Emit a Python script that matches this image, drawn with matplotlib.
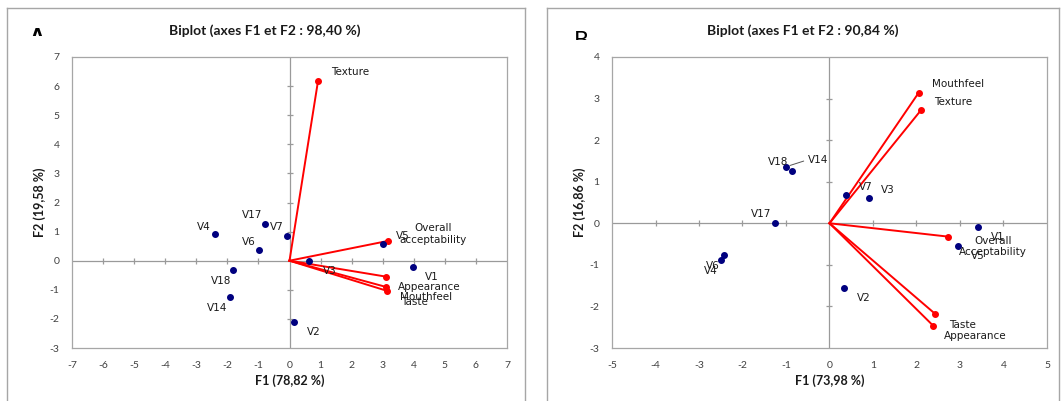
import numpy as np
import matplotlib
matplotlib.use("Agg")
import matplotlib.pyplot as plt
from matplotlib.patches import Rectangle
from matplotlib.lines import Line2D

# ---------------- data ----------------
# Panel A
a_title = "Biplot (axes F1 et F2 : 98,40 %)"
a_xlabel = "F1 (78,82 %)"
a_ylabel = "F2 (19,58 %)"
a_obs_names = ["V1", "V2", "V3", "V4", "V5", "V6", "V7", "V14", "V17", "V18"]
a_obs_f1 = [3.97, 0.14, 0.64, -2.40, 3.01, -0.99, -0.09, -1.92, -0.79, -1.81]
a_obs_f2 = [-0.21, -2.10, -0.02, 0.92, 0.58, 0.36, 0.86, -1.24, 1.26, -0.33]
a_var_names = ["Texture", "Overall\nacceptability", "Appearance", "Mouthfeel", "Taste"]
a_var_f1 = [0.92, 3.17, 3.12, 3.10, 3.15]
a_var_f2 = [6.19, 0.68, -0.55, -0.90, -1.04]
a_xlim = (-7, 7)
a_ylim = (-3, 7)

# Panel B
b_title = "Biplot (axes F1 et F2 : 90,84 %)"
b_xlabel = "F1 (73,98 %)"
b_ylabel = "F2 (16,86 %)"
b_obs_names = ["V1", "V2", "V3", "V4", "V5", "V6", "V7", "V14", "V17", "V18"]
b_obs_f1 = [3.41, 0.33, 0.91, -2.49, 2.95, -2.43, 0.38, -1.00, -1.26, -0.86]
b_obs_f2 = [-0.08, -1.56, 0.62, -0.88, -0.55, -0.77, 0.68, 1.36, 0.01, 1.26]
b_var_names = ["Mouthfeel", "Texture", "Overall\nAcceptability", "Taste", "Appearance"]
b_var_f1 = [2.05, 2.11, 2.72, 2.43, 2.39]
b_var_f2 = [3.14, 2.73, -0.32, -2.18, -2.47]
b_xlim = (-5, 5)
b_ylim = (-3, 4)

# label offsets in pixels (dx right, dy down) -- layout only
a_obs_off = {"V1": (19, 10), "V2": (20, 10), "V3": (20, 10), "V4": (-11, -7),
             "V5": (20, -8), "V6": (-10, -8), "V7": (-10, -9), "V14": (-13, 11),
             "V17": (-13, -9), "V18": (-12, 11)}
a_var_off = {"Texture": (32, -9), "Overall\nacceptability": (45, -7),
             "Appearance": (43, 10), "Mouthfeel": (40, 10), "Taste": (27, 11)}
b_obs_off = {"V1": (20, 10), "V2": (20, 10), "V3": (19, -8), "V4": (-10, 11),
             "V5": (20, 10), "V6": (-11, 11), "V7": (20, -8), "V14": (32, -7),
             "V17": (-14, -9), "V18": (-14, -9)}
b_var_off = {"Mouthfeel": (39, -9), "Texture": (32, -8),
             "Overall\nAcceptability": (45, 10), "Taste": (27, 11), "Appearance": (42, 10)}
b_leader = {"V14"}

W, H = 1061, 401
fig = plt.figure(figsize=(W / 100, H / 100), dpi=100)
fig.patch.set_facecolor("white")

TICK_FONT = "Lato"
LAB_FONT = "DejaVu Sans"
GRAY = "#a6a6a6"
AXGRAY = "#9a9a9a"
NAVY = "#00007f"
RED = "#ff0000"
PX2PT = 72 / 100


def fx(x):
    return x / W


def fy(y):
    return 1 - y / H


def frame(x0, y0, x1, y1):
    fig.add_artist(Line2D([fx(x0), fx(x1)], [fy(y0), fy(y0)], color=GRAY, lw=1.0))
    fig.add_artist(Line2D([fx(x0), fx(x0)], [fy(y0), fy(y1)], color=GRAY, lw=1.0))
    if x1 < W:
        fig.add_artist(Line2D([fx(x1), fx(x1)], [fy(y0), fy(y1)], color=GRAY, lw=1.0))


def panel(rect_px, xlim, ylim, obs_names, obs_x, obs_y, var_names, var_x, var_y,
          obs_off, var_off, title, xlabel, ylabel, leader=()):
    l, t, r, b = rect_px
    ax = fig.add_axes([fx(l), fy(b), (r - l) / W, (b - t) / H])
    ax.set_xlim(*xlim)
    ax.set_ylim(*ylim)
    for s in ax.spines.values():
        s.set_color(GRAY)
        s.set_linewidth(0.9)
    xt = np.arange(xlim[0], xlim[1] + 1)
    yt = np.arange(ylim[0], ylim[1] + 1)
    ax.set_xticks(xt)
    ax.set_yticks(yt)
    ax.set_xticklabels([str(v) for v in xt])
    ax.set_yticklabels([str(v) for v in yt])
    ax.tick_params(length=0, pad=9, labelsize=7.5, labelcolor="#404040")
    for lab in ax.get_xticklabels() + ax.get_yticklabels():
        lab.set_fontfamily(TICK_FONT)
    # central cross
    ax.axhline(0, color=AXGRAY, lw=0.9, zorder=1)
    ax.axvline(0, color=AXGRAY, lw=0.9, zorder=1)
    xt_in = [v for v in xt if v not in (0, xlim[0], xlim[1])]
    yt_in = [v for v in yt if v not in (0, ylim[0], ylim[1])]
    ax.plot(xt_in, [0] * len(xt_in), ls="none", marker="|", ms=5, mew=0.9,
            color=AXGRAY, zorder=1)
    ax.plot([0] * len(yt_in), yt_in, ls="none", marker="_", ms=5, mew=0.9,
            color=AXGRAY, zorder=1)
    # vectors
    for n, vx, vy in zip(var_names, var_x, var_y):
        ax.plot([0, vx], [0, vy], color=RED, lw=1.4, zorder=3)
        ax.plot([vx], [vy], "o", color=RED, ms=4, zorder=4)
        dx, dy = var_off[n]
        ax.annotate(n, (vx, vy), xytext=(dx * PX2PT, -dy * PX2PT),
                    textcoords="offset points", ha="center", va="center",
                    fontsize=7.5, family=LAB_FONT, color="#1a1a1a", linespacing=1.15,
                    zorder=5)
    # observations
    ax.plot(obs_x, obs_y, "o", color=NAVY, ms=4, ls="none", zorder=4)
    for n, ox, oy in zip(obs_names, obs_x, obs_y):
        dx, dy = obs_off[n]
        kw = {}
        if n in leader:
            kw["arrowprops"] = dict(arrowstyle="-", color="#555555", lw=0.7,
                                    shrinkA=1, shrinkB=3, relpos=(0, 0.5))
        ax.annotate(n, (ox, oy), xytext=(dx * PX2PT, -dy * PX2PT),
                    textcoords="offset points", ha="center", va="center",
                    fontsize=7.5, family=LAB_FONT, color="#1a1a1a", zorder=5, **kw)
    # labels
    cx = (l + r) / 2
    fig.text(fx(cx), fy(381), xlabel, ha="center", va="center", fontsize=9,
             fontweight="bold", family=TICK_FONT, color="#1a1a1a")
    return ax


# outer frames
frame(7, 8, 525, 410)
frame(547, 8, 1059, 410)

axA = panel((72, 57, 507, 348), a_xlim, a_ylim, a_obs_names, a_obs_f1, a_obs_f2,
            a_var_names, a_var_f1, a_var_f2, a_obs_off, a_var_off,
            a_title, a_xlabel, a_ylabel)
axB = panel((612, 57, 1047, 348), b_xlim, b_ylim, b_obs_names, b_obs_f1, b_obs_f2,
            b_var_names, b_var_f1, b_var_f2, b_obs_off, b_var_off,
            b_title, b_xlabel, b_ylabel, leader=b_leader)

# titles and y labels
fig.text(fx(265), fy(31), a_title, ha="center", va="center", fontsize=10,
         fontweight="bold", family=TICK_FONT, color="#1a1a1a")
fig.text(fx(803), fy(31), b_title, ha="center", va="center", fontsize=10,
         fontweight="bold", family=TICK_FONT, color="#1a1a1a")
fig.text(fx(40), fy(202), a_ylabel, ha="center", va="center", rotation=90,
         fontsize=9, fontweight="bold", family=TICK_FONT, color="#1a1a1a")
fig.text(fx(580), fy(202), b_ylabel, ha="center", va="center", rotation=90,
         fontsize=9, fontweight="bold", family=TICK_FONT, color="#1a1a1a")

# cropped panel letters
fig.text(fx(37), fy(27), "A", ha="center", va="top", fontsize=12,
         fontweight="bold", family="DejaVu Sans", color="black", zorder=1)
fig.text(fx(581), fy(31), "B", ha="center", va="top", fontsize=16,
         family="DejaVu Sans", color="black", zorder=1)
fig.add_artist(Rectangle((fx(25), fy(52)), 30 / W, 16 / H, facecolor="white",
                         edgecolor="none", zorder=2))
fig.add_artist(Rectangle((fx(565), fy(55)), 30 / W, 15 / H, facecolor="white",
                         edgecolor="none", zorder=2))

fig.savefig("out.png", dpi=100, facecolor="white")
